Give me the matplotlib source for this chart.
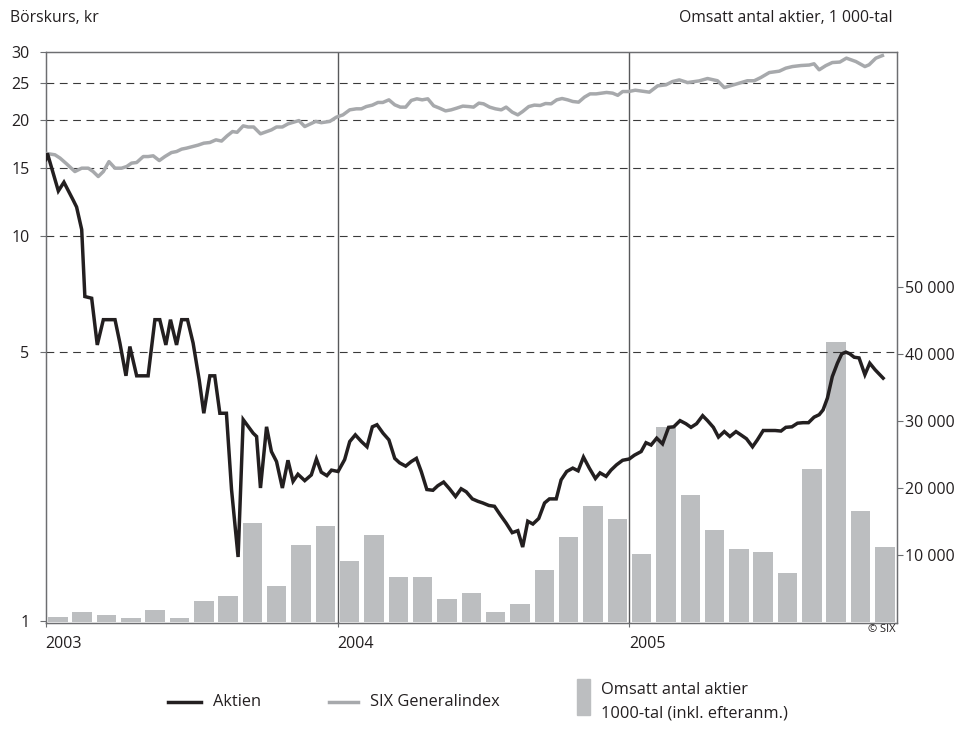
import matplotlib
matplotlib.use("Agg")
import matplotlib.pyplot as plt
from matplotlib.lines import Line2D
from matplotlib.patches import Rectangle
import matplotlib.transforms as mtransforms

plt.rcParams['font.family'] = ['Open Sans', 'DejaVu Sans']

# ---------------- data ----------------
year_labels = ["2003", "2004", "2005"]
year_pos = [0, 12, 24]                      # month index of each year start

# monthly turnover, thousands of shares (Jan 2003 .. Nov 2005)
volume = [730, 1390, 990, 540, 1730, 590, 3080, 3830, 14690, 5280, 11500, 14340,
          9100, 12900, 6620, 6670, 3380, 4230, 1480, 2590, 7760, 12650, 17230, 15340,
          10100, 29090, 18920, 13650, 10850, 10450, 7260, 22770, 41750, 16490, 11150]

# share price (kr), time in months since Jan 2003
aktien_t = [0.0, 0.07, 0.52, 0.75, 1.13, 1.27, 1.48, 1.61, 1.89, 2.12, 2.37, 2.85, 3.05, 3.30,
            3.46, 3.74, 4.21, 4.49, 4.69, 4.94, 5.13, 5.38, 5.59, 5.83, 6.06, 6.31, 6.50, 6.75,
            6.95, 7.16, 7.43, 7.64, 7.91, 8.12, 8.53, 8.67, 8.83, 9.08, 9.28, 9.49, 9.73, 9.96,
            10.17, 10.37, 10.65, 10.92, 11.13, 11.33, 11.56, 11.75, 12.02, 12.29, 12.50, 12.73,
            12.98, 13.21, 13.43, 13.62, 13.87, 14.11, 14.35, 14.55, 14.80, 15.03, 15.24, 15.44,
            15.67, 15.92, 16.12, 16.36, 16.60, 16.85, 17.08, 17.29, 17.54, 17.77, 17.97, 18.22,
            18.45, 18.69, 18.93, 19.18, 19.41, 19.61, 19.82, 20.03, 20.27, 20.51, 20.71, 20.99,
            21.19, 21.42, 21.67, 21.89, 22.11, 22.35, 22.60, 22.79, 23.04, 23.24, 23.47, 23.72,
            23.99, 24.20, 24.48, 24.68, 24.89, 25.12, 25.36, 25.61, 25.82, 26.08, 26.32, 26.53,
            26.76, 27.01, 27.21, 27.45, 27.66, 27.90, 28.13, 28.38, 28.58, 28.81, 29.06, 29.26,
            29.50, 29.75, 29.99, 30.23, 30.43, 30.68, 30.91, 31.14, 31.36, 31.59, 31.80, 31.96,
            32.14, 32.34, 32.55, 32.73, 32.90, 33.06, 33.24, 33.44, 33.68, 33.88, 34.10, 34.43]
aktien_v = [15.8, 16.4, 13.1, 13.8, 12.4, 11.9, 10.4, 6.97, 6.90, 5.22, 6.07, 6.07, 5.28, 4.34,
            5.17, 4.34, 4.34, 6.07, 6.07, 5.22, 6.07, 5.22, 6.07, 6.07, 5.28, 4.24, 3.47, 4.34,
            4.34, 3.47, 3.47, 2.20, 1.47, 3.34, 3.08, 3.02, 2.22, 3.20, 2.76, 2.60, 2.22, 2.62,
            2.31, 2.41, 2.32, 2.40, 2.64, 2.44, 2.39, 2.47, 2.45, 2.63, 2.93, 3.05,
            2.93, 2.84, 3.20, 3.24, 3.08, 2.96, 2.65, 2.58, 2.53, 2.60, 2.65, 2.45,
            2.20, 2.19, 2.25, 2.30, 2.21, 2.11, 2.21, 2.17, 2.08, 2.05, 2.03, 2.00,
            1.99, 1.89, 1.80, 1.70, 1.72, 1.56, 1.82, 1.79, 1.85, 2.03, 2.08, 2.08,
            2.33, 2.45, 2.50, 2.46, 2.67, 2.50, 2.35, 2.43, 2.38, 2.47, 2.55, 2.62,
            2.64, 2.70, 2.76, 2.91, 2.87, 2.99, 2.89, 3.19, 3.20, 3.32, 3.26, 3.19,
            3.26, 3.42, 3.32, 3.19, 3.01, 3.11, 3.02, 3.11, 3.05, 2.98, 2.84, 2.96,
            3.13, 3.13, 3.13, 3.12, 3.19, 3.20, 3.27, 3.28, 3.28, 3.39, 3.44, 3.54,
            3.80, 4.32, 4.68, 4.95, 5.00, 4.95, 4.85, 4.83, 4.37, 4.68, 4.50, 4.28]

# SIX Generalindex (rescaled), time in months since Jan 2003
six_t = [0.0, 0.38, 0.59, 0.86, 1.20, 1.48, 1.75, 1.95, 2.16, 2.37, 2.60, 2.85, 3.12, 3.33,
         3.53, 3.74, 4.01, 4.21, 4.42, 4.67, 4.90, 5.17, 5.38, 5.59, 5.79, 6.04, 6.27, 6.50,
         6.75, 7.00, 7.23, 7.46, 7.68, 7.87, 8.12, 8.32, 8.55, 8.83, 9.08, 9.28, 9.49, 9.73,
         9.96, 10.20, 10.41, 10.65, 10.92, 11.10, 11.33, 11.68, 11.95, 12.22, 12.50, 12.77,
         12.98, 13.18, 13.43, 13.66, 13.86, 14.11, 14.35, 14.58, 14.80, 15.03, 15.26, 15.48,
         15.71, 15.95, 16.19, 16.44, 16.67, 16.90, 17.15, 17.40, 17.59, 17.81, 18.00, 18.25,
         18.49, 18.73, 18.93, 19.18, 19.41, 19.61, 19.86, 20.09, 20.33, 20.55, 20.78, 21.01,
         21.23, 21.46, 21.67, 21.91, 22.15, 22.38, 22.63, 22.83, 23.06, 23.31, 23.52, 23.72,
         23.97, 24.24, 24.48, 24.82, 25.16, 25.50, 25.77, 26.05, 26.39, 26.87, 27.21, 27.62,
         27.90, 28.24, 28.58, 28.85, 29.13, 29.40, 29.75, 30.16, 30.43, 30.70, 31.05, 31.39,
         31.59, 31.80, 32.07, 32.34, 32.65, 32.92, 33.31, 33.68, 33.85, 34.13, 34.40]
six_v = [16.4, 16.26, 15.94, 15.40, 14.71, 15.01, 15.01, 14.71, 14.28, 14.71, 15.61, 15.01, 15.01, 15.16,
         15.47, 15.53, 16.09, 16.09, 16.16, 15.71, 16.09, 16.48, 16.58, 16.82, 16.92, 17.08, 17.23, 17.43,
         17.50, 17.78, 17.65, 18.21, 18.68, 18.60, 19.33, 19.20, 19.20, 18.43, 18.68, 18.87, 19.20, 19.20,
         19.56, 19.76, 19.95, 19.25, 19.60, 19.85, 19.70, 19.85, 20.36, 20.64, 21.27, 21.40,
         21.40, 21.69, 21.88, 22.23, 22.23, 22.58, 21.92, 21.62, 21.62, 22.50, 22.72, 22.58,
         22.72, 21.79, 21.49, 21.14, 21.27, 21.49, 21.75, 21.69, 21.62, 22.14, 22.05, 21.62,
         21.40, 21.27, 21.62, 20.98, 20.64, 21.06, 21.69, 21.88, 21.83, 22.09, 22.05, 22.58,
         22.76, 22.58, 22.36, 22.27, 22.95, 23.40, 23.40, 23.50, 23.60, 23.50, 23.20, 23.73,
         23.73, 23.92, 23.80, 23.64, 24.55, 24.70, 25.19, 25.44, 25.04, 25.29, 25.65, 25.31,
         24.30, 24.66, 25.04, 25.31, 25.31, 25.80, 26.58, 26.80, 27.29, 27.55, 27.72, 27.80,
         28.01, 27.02, 27.70, 28.22, 28.30, 28.97, 28.39, 27.55, 27.84, 28.97, 29.42]

price_ticks = [1, 5, 10, 15, 20, 25, 30]
grid_levels = [5, 10, 15, 20, 25]
volume_ticks = [10000, 20000, 30000, 40000, 50000]
volume_labels = ["10 000", "20 000", "30 000", "40 000", "50 000"]

# ---------------- style ----------------
BLACK = "#231f20"
GREY_LINE = "#a7a9ac"
BAR = "#bcbec0"
FRAME = "#6d6e71"
TXT = "#231f20"
FS = 11.3
FS_LEG = 11.8
FS_TICK = 11.5

W, H = 962, 733
fig = plt.figure(figsize=(W / 100, H / 100), dpi=100)
L, R, T, B = 45.7, 897, 52.3, 623.3
ax = fig.add_axes([L / W, 1 - B / H, (R - L) / W, (B - T) / H])
ax2 = ax.twinx()
# lines above bars
ax.set_zorder(ax2.get_zorder() + 1)
ax.patch.set_visible(False)

n = len(volume)
ax2.bar([i + 0.5 for i in range(n)], volume, width=0.8, color=BAR, zorder=2)
ax2.set_ylim(-254, 85100)
ax2.set_yticks(volume_ticks)
ax2.set_yticklabels(volume_labels)

ax.set_yscale('log')
ax.set_ylim(0.989, 30)
ax.set_xlim(0, 35)
ax.set_yticks(price_ticks)
ax.set_yticklabels([str(v) for v in price_ticks])
ax.yaxis.set_minor_locator(matplotlib.ticker.NullLocator())

for g in grid_levels:
    ax.axhline(g, color="#3a3a3a", lw=0.8, linestyle=(0, (7, 5)), zorder=1)
for yp in year_pos[1:]:
    ax.axvline(yp, color="#58595b", lw=1.0, zorder=1)

ax.plot(six_t, six_v, color=GREY_LINE, lw=2.5, solid_joinstyle='round', zorder=3)
ax.plot(aktien_t, aktien_v, color=BLACK, lw=2.5, solid_joinstyle='miter', zorder=4)

ax.set_xticks(year_pos)
ax.set_xticklabels(year_labels)
for lab in ax.get_xticklabels():
    lab.set_horizontalalignment('left')
    lab.set_transform(lab.get_transform() + mtransforms.ScaledTranslation(2 / 100, 0, fig.dpi_scale_trans))

for a in (ax, ax2):
    for s in a.spines.values():
        s.set_color(FRAME)
        s.set_linewidth(0.9)
ax.tick_params(axis='y', which='major', direction='out', length=4.3, width=0.8, color=FRAME,
               labelsize=FS_TICK, labelcolor=TXT, pad=7.5)
ax.tick_params(axis='x', direction='out', length=3, width=0.8, color=FRAME,
               labelsize=FS_TICK, labelcolor=TXT, pad=6.5)
ax2.tick_params(axis='y', direction='out', length=4, width=0.8, color=FRAME,
                labelsize=FS_TICK, labelcolor=TXT, pad=1.5)

# titles
fig.text(10 / W, 1 - 18 / H, "Börskurs, kr", fontsize=FS, color=TXT, ha='left', va='center')
fig.text(893 / W, 1 - 18 / H, "Omsatt antal aktier, 1 000-tal", fontsize=FS, color=TXT,
         ha='right', va='center')
fig.text(896 / W, 1 - 629 / H, "© SIX", fontsize=8, color=TXT, ha='right', va='center')

# legend
def fx(x):
    return x / W

def fy(y):
    return 1 - y / H

fig.add_artist(Line2D([fx(168), fx(201)], [fy(702), fy(702)], color=BLACK, lw=2.5))
fig.text(fx(213), fy(702), "Aktien", fontsize=FS_LEG, color=TXT, ha='left', va='center')
fig.add_artist(Line2D([fx(329), fx(358)], [fy(702), fy(702)], color=GREY_LINE, lw=2.5))
fig.text(fx(370), fy(702), "SIX Generalindex", fontsize=FS_LEG, color=TXT, ha='left', va='center')
fig.add_artist(Rectangle((fx(577), fy(715)), fx(590) - fx(577), fy(679) - fy(715),
                         transform=fig.transFigure, color=BAR))
fig.text(fx(601), fy(690), "Omsatt antal aktier", fontsize=FS_LEG, color=TXT, ha='left', va='center')
fig.text(fx(601), fy(713), "1000-tal (inkl. efteranm.)", fontsize=FS_LEG, color=TXT, ha='left', va='center')

fig.savefig("out.png", dpi=100)
